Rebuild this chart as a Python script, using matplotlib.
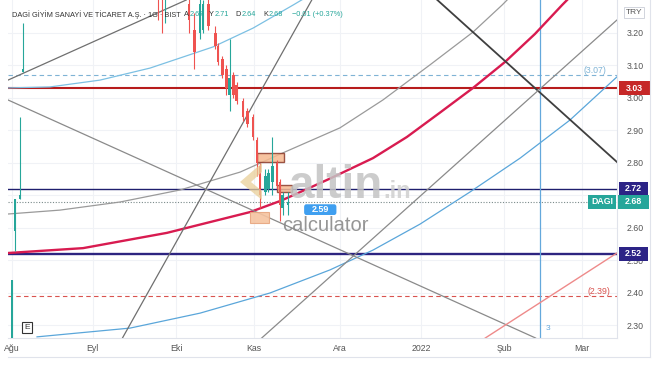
import matplotlib.pyplot as plt
from matplotlib.patches import Rectangle, FancyBboxPatch, Polygon

plt.rcParams['font.family'] = ['Liberation Sans', 'DejaVu Sans']

W, H = 654, 366

# x axis = day index (0 = 1 Aug 2021)
month_pos = [0, 30, 61, 90, 122, 152, 183, 212]
month_lbl = ['Ağu', 'Eyl', 'Eki', 'Kas', 'Ara', '2022', 'Şub', 'Mar']
price_ticks = [2.30, 2.40, 2.50, 2.60, 2.70, 2.80, 2.90, 3.00, 3.10, 3.20]
price_lbls = ['2.30', '2.40', '2.50', '2.60', '', '2.80', '2.90', '3.00', '3.10', '3.20']

# daily candles
c_day = [0.0, 1.1, 3.0, 4.1, 54.3, 55.8, 56.9, 65.8, 67.7, 69.9, 71.0, 72.9, 75.5, 76.6,
         78.1, 79.6, 81.0, 82.2, 83.6, 85.9, 87.4, 89.6, 91.1, 92.2, 94.1, 95.2, 96.7,
         98.5, 99.6, 100.7, 102.6]
c_open = [2.26, 2.59, 2.69, 3.08, 3.34, 3.35, 3.31, 3.29, 3.21, 3.20, 3.21, 3.29, 3.20, 3.16,
          3.12, 3.09, 3.01, 3.07, 3.04, 2.99, 2.96, 2.94, 2.87, 2.79, 2.71, 2.72, 2.74,
          2.80, 2.74, 2.66, 2.67]
c_high = [2.44, 2.69, 2.94, 3.23, 3.36, 3.37, 3.36, 3.31, 3.26, 3.31, 3.30, 3.31, 3.22, 3.17,
          3.13, 3.10, 3.18, 3.08, 3.05, 3.00, 2.97, 2.95, 2.88, 2.80, 2.78, 2.78, 2.88,
          2.81, 2.75, 2.71, 2.71]
c_low = [2.24, 2.53, 2.69, 3.08, 3.24, 3.20, 3.23, 3.20, 3.09, 3.18, 3.20, 3.21, 3.15, 3.10,
         3.06, 3.01, 2.96, 3.00, 2.98, 2.93, 2.91, 2.87, 2.76, 2.66, 2.70, 2.71, 2.70,
         2.72, 2.62, 2.64, 2.64]
c_close = [2.44, 2.69, 2.70, 3.09, 3.31, 3.32, 3.34, 3.24, 3.14, 3.29, 3.29, 3.22, 3.16, 3.11,
           3.07, 3.03, 3.06, 3.01, 2.99, 2.94, 2.92, 2.88, 2.80, 2.70, 2.76, 2.77, 2.79,
           2.73, 2.67, 2.70, 2.68]

# drawn levels
lvl_red = 3.03
lvl_navy = 2.72
lvl_purple = 2.52
lvl_blue_dash = 3.07
lvl_red_dash = 2.39
last_price = 2.68
vline_day = 196.3

# arcs (day, price)
arc_blue_top_d = [-1.5, 14.1, 32.7, 51.3, 74.7, 89.6, 104.5, 110.8]
arc_blue_top_p = [3.031, 3.034, 3.055, 3.092, 3.157, 3.215, 3.286, 3.317]
arc_gray_d = [-1.5, 17.8, 40.2, 62.5, 84.8, 101.5, 121.9, 137.9, 155.4, 171.4, 182.2, 185.9]
arc_gray_p = [2.643, 2.655, 2.680, 2.717, 2.772, 2.834, 2.908, 2.994, 3.102, 3.203, 3.286, 3.317]
arc_pink_d = [-1.5, 26.4, 57.6, 88.5, 100.0, 109.7, 118.2, 134.2, 146.8, 159.1, 171.4, 183.3, 194.4, 204.5, 208.2]
arc_pink_p = [2.523, 2.538, 2.585, 2.649, 2.684, 2.720, 2.752, 2.815, 2.880, 2.955, 3.031, 3.111, 3.197, 3.286, 3.317]
arc_blue_low_d = [9.3, 43.9, 69.9, 95.9, 118.2, 134.2, 151.7, 170.3, 188.9, 207.4, 224.9]
arc_blue_low_p = [2.265, 2.292, 2.338, 2.400, 2.471, 2.532, 2.612, 2.711, 2.815, 2.932, 3.065]

# straight trend lines: two points each
trend_lines = [
    ((-1.5, 3.055), (60.6, 3.286), '#6f6f6f', 0.9),
    ((41.3, 2.265), (110.8, 3.292), '#6f6f6f', 0.9),
    ((-1.5, 2.994), (193.7, 2.265), '#8a8a8a', 0.9),
    ((160.2, 3.286), (224.9, 2.803), '#3f3f3f', 1.3),
    ((93.3, 2.265), (224.9, 3.240), '#8a8a8a', 0.9),
    ((176.6, 2.265), (224.9, 2.523), '#ee8a8a', 1.0),
]

# boxes (day0, day1, p_low, p_high)
boxes = [(91.1, 101.1, 2.803, 2.831), (98.5, 104.1, 2.711, 2.732), (88.5, 95.5, 2.615, 2.649)]


def px(x, y):
    return x / W, 1 - y / H


fig = plt.figure(figsize=(W / 100, H / 100), dpi=100)
ax = fig.add_axes([8 / W, 28 / H, 609 / W, 338 / H])
ax.set_xlim(-1.49, 224.91)
ax.set_ylim(2.2615, 3.3015)

ax.set_xticks(month_pos)
ax.set_xticklabels(month_lbl)
ax.set_yticks(price_ticks)
ax.set_yticklabels(price_lbls)
ax.yaxis.tick_right()
ax.tick_params(axis='both', length=0, labelsize=6.3, colors='#555555')
ax.tick_params(axis='y', pad=7)
ax.tick_params(axis='x', pad=4)
ax.grid(True, color='#f0f2f6', lw=0.8)
ax.set_axisbelow(True)
for s in ['top', 'left']:
    ax.spines[s].set_visible(False)
for s in ['bottom', 'right']:
    ax.spines[s].set_color('#e0e3eb')

# levels
ax.axhline(lvl_red, color='#b71c1c', lw=1.5, zorder=2)
ax.axhline(lvl_navy, color='#1f1f6e', lw=1.0, zorder=2)
ax.axhline(lvl_purple, color='#2d2480', lw=1.7, zorder=2)
ax.axhline(lvl_blue_dash, color='#7fb3d5', lw=0.8, ls=(0, (4, 3)), zorder=2)
ax.axhline(lvl_red_dash, color='#d9534f', lw=0.8, ls=(0, (4, 3)), zorder=2)
ax.axhline(last_price, color='#7a8a8a', lw=0.8, ls=(0, (1, 1.5)), zorder=2)
ax.axvline(vline_day, color='#64a8dc', lw=0.9, zorder=2)
ax.text(vline_day + 2, 2.29, '3', color='#64a8dc', fontsize=6, va='center')
ax.text(221, lvl_blue_dash + 0.015, '(3.07)', color='#7fb3d5', fontsize=6.3, ha='right', va='center')
ax.text(222.5, lvl_red_dash + 0.015, '(2.39)', color='#d9534f', fontsize=6.3, ha='right', va='center')

# arcs and lines
ax.plot(arc_blue_top_d, arc_blue_top_p, color='#7cc0e3', lw=0.9, zorder=2)
ax.plot(arc_gray_d, arc_gray_p, color='#9a9a9a', lw=0.9, zorder=2)
ax.plot(arc_pink_d, arc_pink_p, color='#d81b50', lw=1.7, zorder=2)
ax.plot(arc_blue_low_d, arc_blue_low_p, color='#5aa6da', lw=0.9, zorder=2)
for p0, p1, col, lw in trend_lines:
    ax.axline(p0, p1, color=col, lw=lw, zorder=2)

# boxes
for i, (d0, d1, p0, p1) in enumerate(boxes):
    if i < 2:
        ax.add_patch(Rectangle((d0, p0), d1 - d0, p1 - p0, facecolor='#f6b98f', edgecolor='#8b3a2a',
                               lw=1.0, alpha=0.85, zorder=3))
    else:
        ax.add_patch(Rectangle((d0, p0), d1 - d0, p1 - p0, facecolor='#f5c3a0', edgecolor='#e6a57f',
                               lw=0.8, alpha=0.9, zorder=3))

# candles
for d, o, h, l, c in zip(c_day, c_open, c_high, c_low, c_close):
    col = '#26a69a' if c >= o else '#ef5350'
    ax.vlines(d, l, h, color=col, lw=0.8, zorder=4)
    ax.bar(d, max(abs(c - o), 0.003), bottom=min(o, c), width=1.05, color=col, zorder=4)

# label of hovered price
ax.add_patch(FancyBboxPatch((108.6, 2.640), 12.0, 0.033, boxstyle='round,pad=0,rounding_size=0.8',
                            facecolor='#3f9ff0', edgecolor='none', zorder=6, mutation_aspect=0.01))
ax.text(114.6, 2.656, '2.59', color='white', fontsize=6.5, fontweight='bold', ha='center', va='center', zorder=7)

# E badge
ax.text(5.6, 2.295, 'E', fontsize=6, color='#333333', ha='center', va='center',
        bbox=dict(boxstyle='square,pad=0.25', fc='white', ec='#333333', lw=0.8))

# price axis tags
ya = ax.get_yaxis_transform()


def tag(y, text, color, x0, w):
    ax.add_patch(Rectangle((x0, y - 0.021), w, 0.042, transform=ya, facecolor=color,
                           edgecolor='none', clip_on=False, zorder=8))
    ax.text(x0 + w / 2, y, text, transform=ya, color='white', fontsize=6.3, fontweight='bold',
            ha='center', va='center', clip_on=False, zorder=9)


tag(lvl_red, '3.03', '#c62828', 1.004, 0.05)
tag(lvl_navy, '2.72', '#2c2386', 1.004, 0.047)
tag(last_price, '2.68', '#26a69a', 1.002, 0.05)
tag(last_price, 'DAGI', '#26a69a', 0.953, 0.046)
tag(lvl_purple, '2.52', '#2c2386', 1.004, 0.047)
ax.text(1.028, 3.262, 'TRY', transform=ya, color='#555555', fontsize=6, ha='center', va='center',
        clip_on=False, bbox=dict(boxstyle='square,pad=0.25', fc='white', ec='#d1d4dc', lw=0.7))

# watermark
logo = [px(262, 163), px(240, 182), px(262, 200), px(262, 191), px(251, 182), px(262, 172)]
fig.patches.append(Polygon(logo, closed=True, transform=fig.transFigure, facecolor='#e9cf98',
                           edgecolor='none', alpha=0.75, zorder=10))
fig.text(*px(289, 198), 'altin', fontsize=33, fontweight='bold', color='#c4c4c4', alpha=0.85,
         ha='left', va='baseline', zorder=10)
fig.text(*px(383, 198), '.in', fontsize=17, fontweight='bold', color='#cfcfcf', alpha=0.85,
         ha='left', va='baseline', zorder=10)
fig.text(*px(282, 231), 'calculator', fontsize=14.5, color='#8a8a8a', alpha=0.9,
         ha='left', va='baseline', zorder=10)

# title
fig.text(*px(12, 15), 'DAGİ GİYİM SANAYİ VE TİCARET A.Ş. · 1G · BIST', fontsize=5.3,
         color='#333333', va='center')
ohlc = [(189, 'A', '2.67'), (214, 'Y', '2.71'), (241, 'D', '2.64'), (268, 'K', '2.68')]
for x, k, v in ohlc:
    fig.text(*px(x, 15), k, fontsize=5.3, color='#333333', va='center', ha='right')
    fig.text(*px(x + 0.5, 15), v, fontsize=5.3, color='#26a69a', va='center', ha='left')
fig.text(*px(292, 15), '−0.01 (+0.37%)', fontsize=5.3, color='#26a69a', va='center')

# outer frame lines
fig.add_artist(plt.Line2D([8 / W, 650 / W], [1 - 357 / H] * 2, color='#e0e3eb', lw=0.8))
fig.add_artist(plt.Line2D([650 / W] * 2, [1 - 357 / H, 1], color='#e0e3eb', lw=0.8))

fig.savefig('out.png', dpi=100)
